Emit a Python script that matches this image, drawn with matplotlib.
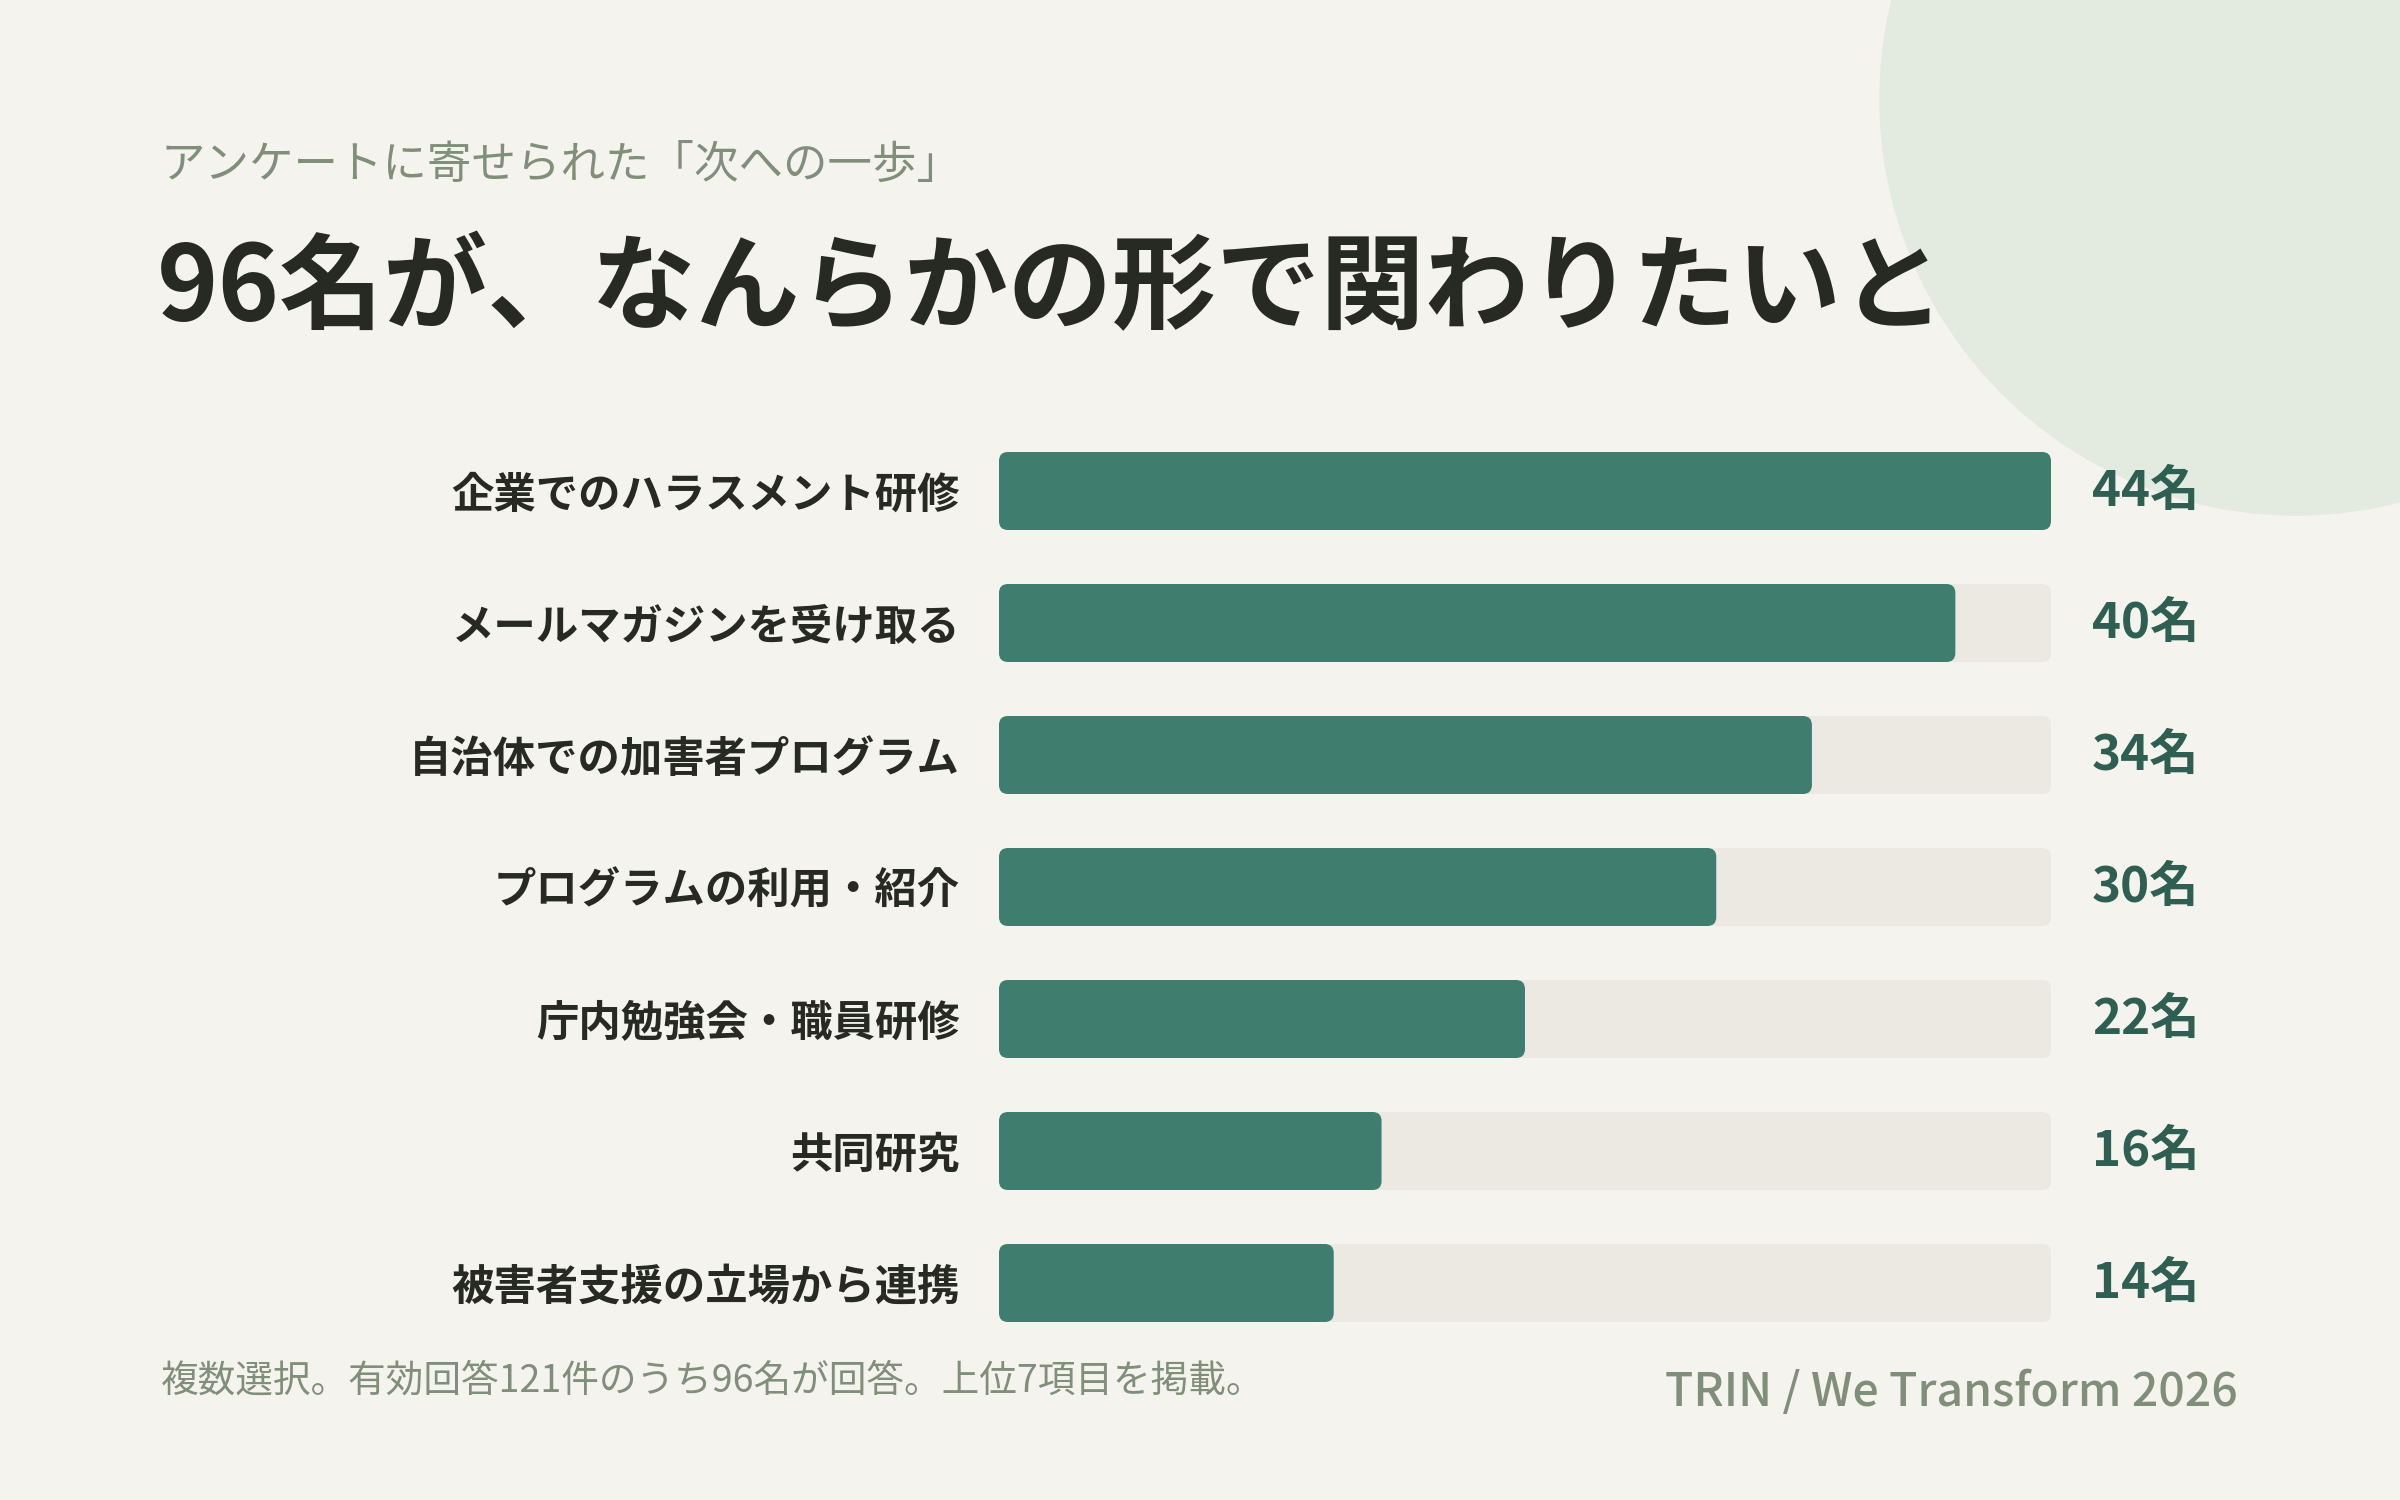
import matplotlib
matplotlib.use("Agg")
import matplotlib.pyplot as plt
from matplotlib.patches import FancyBboxPatch, Ellipse

plt.rcParams['font.family'] = ['Noto Sans CJK JP', 'DejaVu Sans']

# data
categories = ["企業でのハラスメント研修", "メールマガジンを受け取る", "自治体での加害者プログラム",
              "プログラムの利用・紹介", "庁内勉強会・職員研修", "共同研究", "被害者支援の立場から連携"]
counts = [44, 40, 34, 30, 22, 16, 14]
value_labels = [str(c) + "名" for c in counts]
track_max = 44

subtitle = "アンケートに寄せられた「次への一歩」"
title = "96名が、なんらかの形で関わりたいと"
footnote = "複数選択。有効回答121件のうち96名が回答。上位7項目を掲載。"
credit = "TRIN / We Transform 2026"

# colours
bg = "#f5f3ed"
bar_col = "#3f7d6e"
track_col = "#ebe9e1"
dark = "#262a22"
muted = "#7f8f7a"
value_col = "#2f5e52"
circle_col = "#e3ebe0"

W, H = 2400, 1500
fig = plt.figure(figsize=(24, 15), dpi=100, facecolor=bg)

# decorative circle top right (figure fraction coords), behind everything
fig.patches.append(Ellipse((2296 / W, 1 - 99 / H), 2 * 416 / W, 2 * 416 / H,
                           transform=fig.transFigure, color=circle_col, zorder=-5))

# bar area
ax = fig.add_axes([999 / W, 1 - 1349 / H, 1052 / W, 924 / H])
ax.set_zorder(2)
ax.set_facecolor("none")
ax.set_xlim(0, track_max)
ax.set_ylim(len(categories) - 0.5, -0.5)

bar_h = 78 / 132
px_x = 1052 / track_max   # pixels per x unit
px_y = 132               # pixels per y unit
rad = 9 / px_x
asp = px_x / px_y

for i, (cat, val) in enumerate(zip(categories, counts)):
    # background track
    ax.add_patch(FancyBboxPatch((0, i - bar_h / 2), track_max, bar_h,
                                boxstyle="round,pad=0,rounding_size=%f" % rad,
                                mutation_aspect=asp, fc=track_col, ec="none", zorder=1))
    # value bar
    ax.add_patch(FancyBboxPatch((0, i - bar_h / 2), val, bar_h,
                                boxstyle="round,pad=0,rounding_size=%f" % rad,
                                mutation_aspect=asp, fc=bar_col, ec="none", zorder=2))
    ax.annotate(value_labels[i], xy=(track_max, i), xytext=(29.5, 0), textcoords="offset points",
                ha="left", va="center", fontsize=35.5, fontweight="bold", color=value_col)

ax.set_yticks(range(len(categories)))
ax.set_yticklabels(categories, fontsize=30.5, fontweight="bold", color=dark)
ax.tick_params(axis="y", length=0, pad=28)
ax.set_xticks([])
for s in ax.spines.values():
    s.set_visible(False)

# header
fig.text(161 / W, 1 - 165 / H, subtitle, fontsize=32, color=muted, ha="left", va="center")
fig.text(157 / W, 1 - 290 / H, title, fontsize=75, fontweight="bold", color=dark,
         ha="left", va="center")

# footer
fig.text(161 / W, 1 - 1381 / H, footnote, fontsize=27.1, color=muted, ha="left", va="center")
fig.text(2238 / W, 1 - 1393 / H, credit, fontsize=33.4, fontweight="medium", color=muted,
         ha="right", va="center")

fig.savefig("out.png", dpi=100, facecolor=bg)
